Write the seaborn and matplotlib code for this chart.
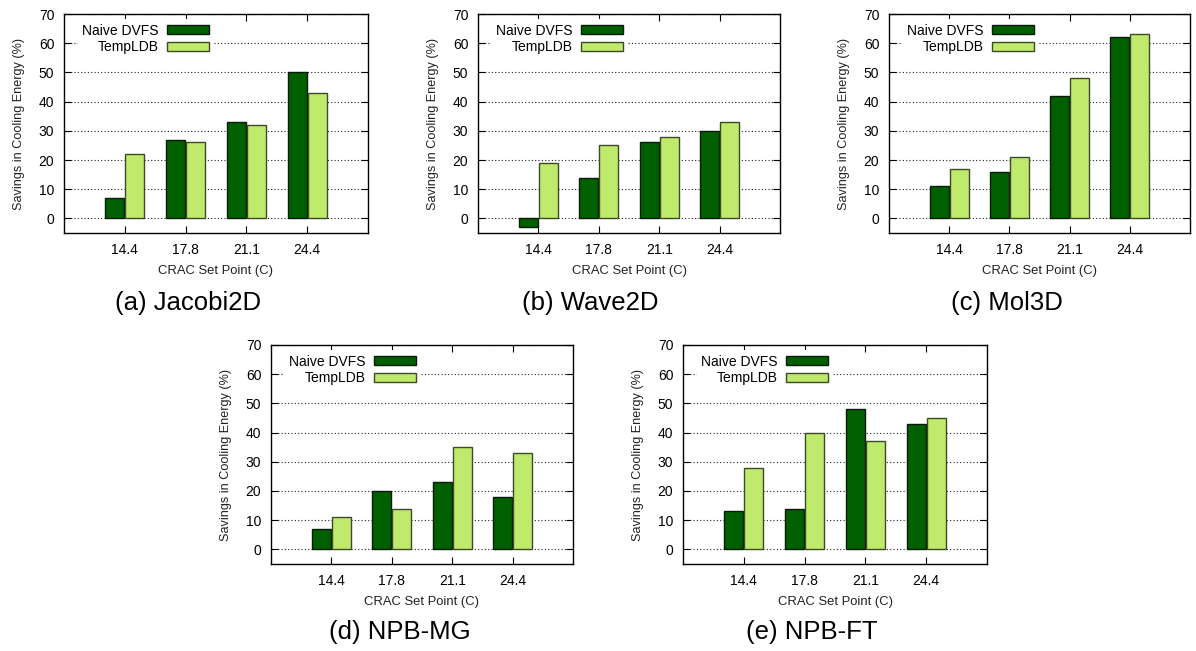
import matplotlib
matplotlib.use("Agg")
import matplotlib.pyplot as plt
import seaborn as sns
import pandas as pd

set_points = ["14.4", "17.8", "21.1", "24.4"]
series_names = ["Naive DVFS", "TempLDB"]

jacobi_naive = [7, 27, 33, 50]
jacobi_templdb = [22, 26, 32, 43]
wave_naive = [-3, 14, 26, 30]
wave_templdb = [19, 25, 28, 33]
mol_naive = [11, 16, 42, 62]
mol_templdb = [17, 21, 48, 63]
mg_naive = [7, 20, 23, 18]
mg_templdb = [11, 14, 35, 33]
ft_naive = [13, 14, 48, 43]
ft_templdb = [28, 40, 37, 45]

captions = ["(a) Jacobi2D", "(b) Wave2D", "(c) Mol3D", "(d) NPB-MG", "(e) NPB-FT"]
panels = [
    (jacobi_naive, jacobi_templdb),
    (wave_naive, wave_templdb),
    (mol_naive, mol_templdb),
    (mg_naive, mg_templdb),
    (ft_naive, ft_templdb),
]

sns.set_theme(style="ticks")
plt.rcParams["font.family"] = ["Liberation Sans", "DejaVu Sans"]
plt.rcParams["text.color"] = "black"
plt.rcParams["axes.labelcolor"] = "black"
plt.rcParams["xtick.color"] = "black"
plt.rcParams["ytick.color"] = "black"

W, H = 1196, 651
fig = plt.figure(figsize=(W / 100, H / 100), dpi=100)

# axes boxes in pixels: left, top, right, bottom
boxes = [
    (64, 14, 368, 233),
    (478, 14, 780, 233),
    (889, 14, 1190, 233),
    (271, 345, 573, 564),
    (683, 345, 987, 564),
]
caption_pos = [(188, 303), (590, 303), (1007, 303), (400, 632), (812, 632)]

dark = "#006000"
light = "#c0ea6c"
palette = {series_names[0]: dark, series_names[1]: light}

for (l, t, r, b), (naive, templdb), cap, (cx, cy) in zip(boxes, panels, captions, caption_pos):
    ax = fig.add_axes([l / W, 1 - b / H, (r - l) / W, (b - t) / H])
    df = pd.DataFrame({
        "set_point": set_points * 2,
        "value": list(naive) + list(templdb),
        "series": [series_names[0]] * 4 + [series_names[1]] * 4,
    })
    sns.barplot(data=df, x="set_point", y="value", hue="series", order=set_points,
                hue_order=series_names, palette=palette, width=0.66, gap=0.05,
                saturation=1, ax=ax, zorder=3)
    for patch in ax.patches:
        fc = patch.get_facecolor()
        if fc[0] < 0.05:
            patch.set_edgecolor("#0a1a0a")
        else:
            patch.set_edgecolor("#3c4a28")
        patch.set_linewidth(1.0)
    ax.set_xlim(-1, 4)
    ax.set_ylim(-5, 70)
    ax.set_yticks(range(0, 71, 10))
    ax.yaxis.grid(True, linestyle=(0, (1, 2)), color="#222222", linewidth=0.8, zorder=0)
    ax.set_axisbelow(True)
    ax.tick_params(axis="both", direction="in", top=True, right=True, length=5,
                   width=0.8, labelsize=10, colors="black", pad=7)
    for s in ax.spines.values():
        s.set_visible(True)
        s.set_color("black")
        s.set_linewidth(1.0)
    ax.set_xlabel("CRAC Set Point (C)", fontsize=9.4, labelpad=6, color="#222222")
    ax.set_ylabel("Savings in Cooling Energy (%)", fontsize=9.1, labelpad=10, color="#222222")
    handles, labels = ax.get_legend_handles_labels()
    leg = ax.legend(handles, labels, loc="upper left", bbox_to_anchor=(0.04, 0.985),
                    markerfirst=False, frameon=True, fontsize=10, handlelength=3.0,
                    handleheight=0.55, handletextpad=0.6, labelspacing=0.2,
                    borderpad=0.35, borderaxespad=0.1)
    leg.get_frame().set_facecolor("white")
    leg.get_frame().set_edgecolor("none")
    leg.get_frame().set_alpha(1)
    leg.set_zorder(5)
    for text in leg.get_texts():
        text.set_ha("right")
        text.set_color("black")
    fig.text(cx / W, 1 - cy / H, cap, ha="center", va="center", fontsize=18.5, color="black")

fig.savefig("out.png", dpi=100)
